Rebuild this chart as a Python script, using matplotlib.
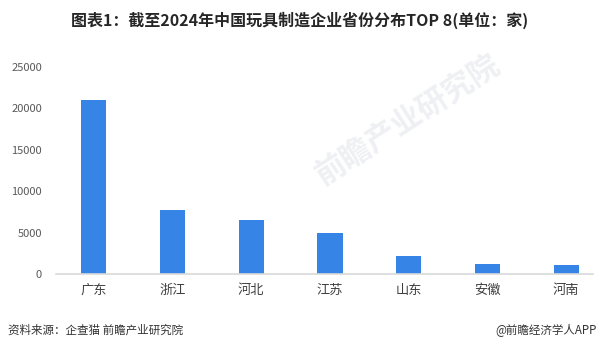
import matplotlib
matplotlib.use("Agg")
import matplotlib.pyplot as plt

plt.rcParams["font.family"] = ["Noto Sans CJK SC", "DejaVu Sans"]

provinces = ["广东", "浙江", "河北", "江苏", "山东", "安徽", "河南"]
counts = [21000, 7700, 6500, 5000, 2200, 1200, 1100]
yticks = [0, 5000, 10000, 15000, 20000, 25000]

title = "图表1：截至2024年中国玩具制造企业省份分布TOP 8(单位：家)"
source = "资料来源：企查猫 前瞻产业研究院"
credit = "@前瞻经济学人APP"

fig = plt.figure(figsize=(5.99, 3.52), dpi=100)
ax = fig.add_axes([56 / 599, 1 - 274 / 352, (593 - 56) / 599, (274 - 67) / 352])

x = range(len(provinces))
ax.bar(x, counts, width=0.32, color="#3685e6", zorder=2)

ax.set_xlim(-0.48, 6.34)
ax.set_ylim(0, 25000)
ax.set_yticks(yticks)
ax.set_yticklabels([str(v) for v in yticks])
ax.set_xticks(list(x))
ax.set_xticklabels(provinces)

for s in ["top", "right", "left"]:
    ax.spines[s].set_visible(False)
ax.spines["bottom"].set_color("#d9d9d9")
ax.spines["bottom"].set_linewidth(1.2)
ax.tick_params(axis="y", length=0, labelsize=8, labelcolor="#595959", pad=10)
ax.tick_params(axis="x", length=0, labelsize=9.5, labelcolor="#404040", pad=7)

# faint watermark
fig.text(0.68, 0.66, "前瞻产业研究院", rotation=33, fontsize=22, color="#eff0f3",
         fontweight="bold", ha="center", va="center", zorder=0)

fig.text(0.5, 1 - 20 / 352, title, ha="center", va="center", fontsize=11.5,
         fontweight="bold", color="#262626")
fig.text(8 / 599, 1 - 330 / 352, source, ha="left", va="center", fontsize=8.3, color="#333333")
fig.text(597 / 599, 1 - 330 / 352, credit, ha="right", va="center", fontsize=8.3, color="#333333")

fig.savefig("out.png", dpi=100)
